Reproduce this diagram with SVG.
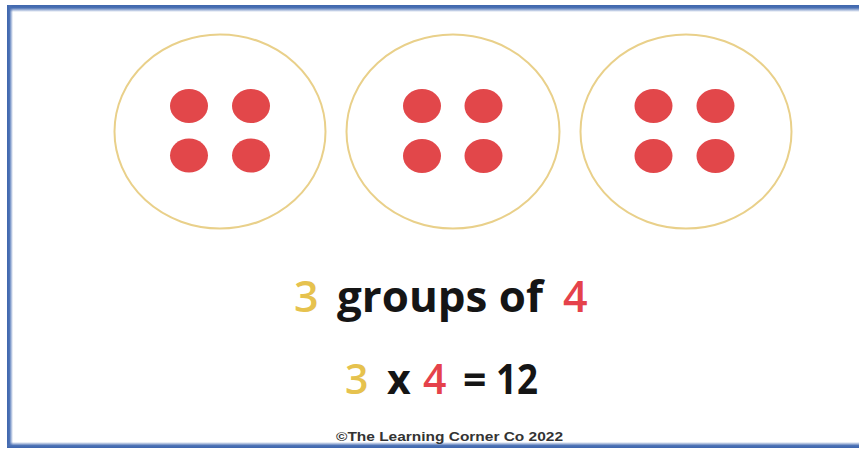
<svg xmlns="http://www.w3.org/2000/svg" width="859" height="449" viewBox="0 0 859 449">
<style>
.grp{fill:#fff;stroke:#e9d08a;stroke-width:2}
.dot{fill:#e2474a}
.t{font-family:"Open Sans","Liberation Sans",sans-serif;font-weight:600}
.y{fill:#e6c24e}.r{fill:#e5424b}.k{fill:#151515;font-weight:700}
.c{font-family:"Liberation Sans",sans-serif;font-size:12px;fill:#333;font-weight:bold}
</style>
<defs>
<linearGradient id="gt" x1="0" y1="0" x2="0" y2="1"><stop offset="0" stop-color="#3f66ad"/><stop offset="0.4" stop-color="#4a70b4"/><stop offset="1" stop-color="#4a70b4" stop-opacity="0"/></linearGradient>
<linearGradient id="gl" x1="0" y1="0" x2="1" y2="0"><stop offset="0" stop-color="#3f66ad"/><stop offset="0.4" stop-color="#4a70b4"/><stop offset="1" stop-color="#4a70b4" stop-opacity="0"/></linearGradient>
<linearGradient id="gb" x1="0" y1="1" x2="0" y2="0"><stop offset="0" stop-color="#3f66ad"/><stop offset="0.4" stop-color="#4a70b4"/><stop offset="1" stop-color="#4a70b4" stop-opacity="0"/></linearGradient>
</defs>
<rect width="859" height="449" fill="#fff"/>
<g id="frame">
<rect x="7" y="5" width="852" height="7" fill="url(#gt)"/>
<rect x="7" y="5" width="6" height="442" fill="url(#gl)"/>
<rect x="7" y="442" width="852" height="6" fill="url(#gb)"/>
</g>
<g id="group1">
<ellipse class="grp" cx="220" cy="131.5" rx="105.5" ry="97"/>
<ellipse class="dot" cx="189" cy="106" rx="19" ry="17"/>
<ellipse class="dot" cx="251" cy="106" rx="19" ry="17"/>
<ellipse class="dot" cx="189" cy="155.5" rx="19" ry="17"/>
<ellipse class="dot" cx="251" cy="155.5" rx="19" ry="17"/>
</g>
<g id="group2">
<ellipse class="grp" cx="453" cy="131.5" rx="106.5" ry="97"/>
<ellipse class="dot" cx="422" cy="106" rx="19" ry="17"/>
<ellipse class="dot" cx="483.5" cy="106" rx="19" ry="17"/>
<ellipse class="dot" cx="422" cy="156" rx="19" ry="17"/>
<ellipse class="dot" cx="483.5" cy="156" rx="19" ry="17"/>
</g>
<g id="group3">
<ellipse class="grp" cx="686" cy="131.5" rx="105.5" ry="97"/>
<ellipse class="dot" cx="653.5" cy="106" rx="19" ry="17"/>
<ellipse class="dot" cx="715.5" cy="106" rx="19" ry="17"/>
<ellipse class="dot" cx="653.5" cy="156" rx="19" ry="17"/>
<ellipse class="dot" cx="715.5" cy="156" rx="19" ry="17"/>
</g>
<g id="line1" class="t" font-size="43">
<text x="294" y="312" class="y">3</text>
<text x="337" y="312" class="k" textLength="206" lengthAdjust="spacingAndGlyphs">groups of</text>
<text x="563" y="312" class="r">4</text>
</g>
<g id="line2" class="t" font-size="41">
<text x="345" y="394" class="y">3</text>
<text x="387" y="394" class="k">x</text>
<text x="423" y="394" class="r">4</text>
<text x="463" y="394" class="k">=</text>
<text x="496" y="394" class="k" textLength="42" lengthAdjust="spacingAndGlyphs">12</text>
</g>
<text id="copyright" class="c" x="336" y="441" textLength="227" lengthAdjust="spacingAndGlyphs">©The Learning Corner Co 2022</text>
</svg>
